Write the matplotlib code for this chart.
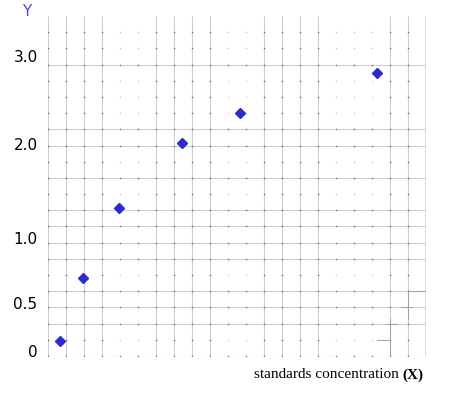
import matplotlib.pyplot as plt
import numpy as np
import matplotlib.transforms as mtransforms

# standards
conc_x = [0.67, 1.96, 3.96, 7.43, 10.67, 18.28]
signal_y = [0.15, 0.73, 1.36, 2.03, 2.40, 2.89]

y_tick_vals = [0, 0.5, 1.0, 2.0, 3.0]
y_tick_labels = ["0", "0.5", "1.0", "2.0", "3.0"]

# the paper grid is not linear in Y: tick value -> grid square
Y_KNOTS = [0, 0.5, 1.0, 2.0, 3.0, 3.6]
G_KNOTS = [0, 3, 7, 13, 18, 21]

COR_GRADE = "#cfcfcf"
COR_PONTO = "#2b2bd0"
COR_NO = "#707070"


def y_para_g(v):
    return np.interp(v, Y_KNOTS, G_KNOTS)


def g_para_y(g):
    return np.interp(g, G_KNOTS, Y_KNOTS)


fig = plt.figure(figsize=(4.69, 4.02), dpi=100)
ax = fig.add_axes([48 / 469, 45 / 402, 378 / 469, 340 / 402])
ax.set_yscale("function", functions=(y_para_g, g_para_y))
ax.set_xlim(0, 21)
ax.set_ylim(0, 3.6)
for s in ax.spines.values():
    s.set_visible(False)
ax.tick_params(length=0)
ax.set_xticks([])

# grid paper
linhas_cheias = [0, 2, 3, 4, 6, 7, 8, 9, 11, 13, 14, 18]
cols_cheias = [0, 1, 2, 3, 6, 7, 8, 9, 12, 13, 14, 15, 19, 20]

for g in linhas_cheias:
    ax.axhline(g_para_y(g), color=COR_GRADE, lw=0.8, zorder=1)
for c in cols_cheias:
    ax.axvline(c, color=COR_GRADE, lw=0.8, zorder=1)
ax.axvline(21, color="#d0d0d0", lw=1.8, zorder=1)

for g in range(21):
    for c in range(21):
        escuro = (g in linhas_cheias) or (c in cols_cheias)
        ax.plot(c, g_para_y(g), marker="s", ms=1.0, mew=0,
                color=COR_NO if escuro else "#c4c4c4", zorder=2)

# scanner smudges bottom right
manchas = [
    ([19, 19], [0, 2.3]), ([18.8, 19.4], [2, 2]), ([20, 20], [2.3, 4.1]),
    ([19.6, 20.2], [3, 3]), ([20, 21], [4, 4]), ([21, 21], [3.5, 5]),
    ([16.8, 18], [0, 0]), ([18.3, 19], [1, 1]),
]
for xs, gs in manchas:
    ax.plot(xs, g_para_y(np.array(gs)), color="#a0a0a0", lw=0.7, zorder=2)

ax.plot(conc_x, signal_y, "D", ms=5.2, color=COR_PONTO, mec=COR_PONTO, zorder=5)

ax.set_yticks(y_tick_vals)
ax.set_yticklabels(y_tick_labels, fontsize=11, family="DejaVu Sans", color="black")
ax.tick_params(axis="y", pad=7.5)
# labels sit a little above their lines, not all by the same amount
subida_px = [6, 5, 6, 3, 10]
for lbl, dy in zip(ax.get_yticklabels(), subida_px):
    desloc = mtransforms.ScaledTranslation(0, dy / 100, fig.dpi_scale_trans)
    lbl.set_transform(lbl.get_transform() + desloc)

fig.text(27 / 469, 1 - 11 / 402, "Y", ha="center", va="center",
         fontsize=11, color="#4a4ad8")
fig.text(399 / 469, 1 - 375 / 402, "standards concentration", ha="right",
         va="center", fontsize=11, family="Liberation Serif")
fig.text(402 / 469, 1 - 375 / 402, "(X)", ha="left", va="center",
         fontsize=11, family="Liberation Serif", fontweight="bold")

fig.savefig("out.png", dpi=100)
